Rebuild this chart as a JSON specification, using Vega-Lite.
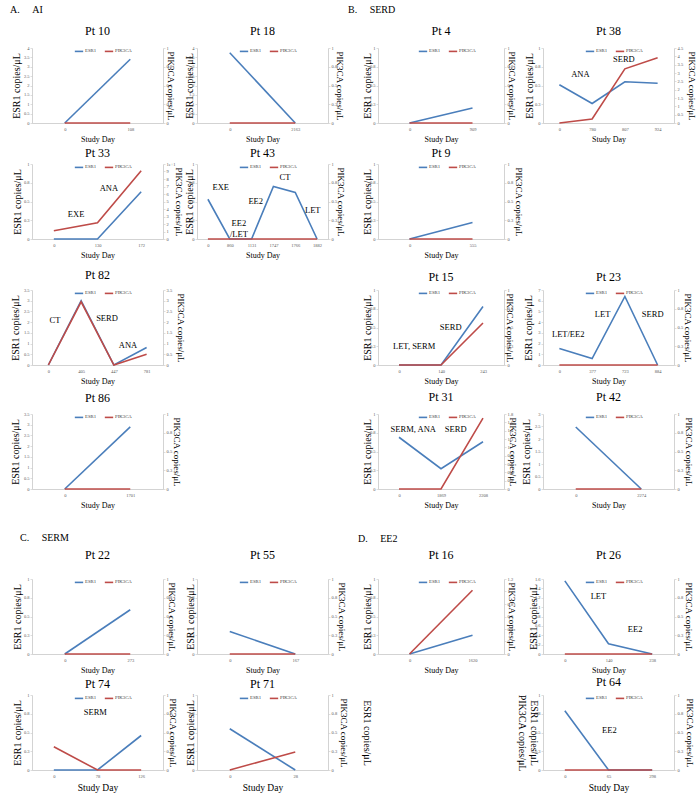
{
"$schema": "https://vega.github.io/schema/vega-lite/v6.json",
"padding": {"left": 10, "top": 5, "right": 5, "bottom": 5},
"background": "white",
"datasets": {
"series": [
{"pt":10,"day":0,"esr1":0,"pik":0},{"pt":10,"day":108,"esr1":3.4,"pik":0},
{"pt":18,"day":0,"esr1":3.75,"pik":0},{"pt":18,"day":2163,"esr1":0,"pik":0},
{"pt":33,"day":0,"esr1":0,"pik":1.1},{"pt":33,"day":130,"esr1":0,"pik":2.15},{"pt":33,"day":172,"esr1":0.63,"pik":9.1},
{"pt":43,"day":0,"esr1":0.53,"pik":0},{"pt":43,"day":860,"esr1":0,"pik":0},{"pt":43,"day":1131,"esr1":0,"pik":0},{"pt":43,"day":1747,"esr1":0.7,"pik":0},{"pt":43,"day":1766,"esr1":0.62,"pik":0},{"pt":43,"day":1882,"esr1":0,"pik":0},
{"pt":82,"day":0,"esr1":0,"pik":0},{"pt":82,"day":405,"esr1":3.0,"pik":2.95},{"pt":82,"day":447,"esr1":0,"pik":0},{"pt":82,"day":781,"esr1":0.82,"pik":0.5},
{"pt":86,"day":0,"esr1":0,"pik":0},{"pt":86,"day":1701,"esr1":2.9,"pik":0},
{"pt":4,"day":0,"esr1":0,"pik":0},{"pt":4,"day":909,"esr1":0.2,"pik":0},
{"pt":38,"day":0,"esr1":0.51,"pik":0},{"pt":38,"day":780,"esr1":0.26,"pik":0.24},{"pt":38,"day":807,"esr1":0.55,"pik":3.25},{"pt":38,"day":924,"esr1":0.53,"pik":3.92},
{"pt":9,"day":0,"esr1":0,"pik":0},{"pt":9,"day":555,"esr1":0.22,"pik":0},
{"pt":15,"day":0,"esr1":0,"pik":0},{"pt":15,"day":140,"esr1":0,"pik":0},{"pt":15,"day":243,"esr1":0.78,"pik":0.56},
{"pt":23,"day":0,"esr1":1.55,"pik":0},{"pt":23,"day":377,"esr1":0.6,"pik":0},{"pt":23,"day":723,"esr1":6.4,"pik":0},{"pt":23,"day":884,"esr1":0,"pik":0},
{"pt":31,"day":0,"esr1":0.69,"pik":0},{"pt":31,"day":1869,"esr1":0.27,"pik":0},{"pt":31,"day":2208,"esr1":0.63,"pik":1.7},
{"pt":42,"day":0,"esr1":2.48,"pik":0},{"pt":42,"day":2274,"esr1":0,"pik":0},
{"pt":22,"day":0,"esr1":0,"pik":0},{"pt":22,"day":273,"esr1":0.59,"pik":0},
{"pt":55,"day":0,"esr1":0.3,"pik":0},{"pt":55,"day":167,"esr1":0,"pik":0},
{"pt":74,"day":0,"esr1":0,"pik":0.31},{"pt":74,"day":78,"esr1":0,"pik":0},{"pt":74,"day":126,"esr1":0.46,"pik":0},
{"pt":71,"day":0,"esr1":0.55,"pik":0},{"pt":71,"day":28,"esr1":0,"pik":0.24},
{"pt":16,"day":0,"esr1":0,"pik":0},{"pt":16,"day":1620,"esr1":0.25,"pik":1.02},
{"pt":26,"day":0,"esr1":1.56,"pik":0},{"pt":26,"day":140,"esr1":0.22,"pik":0},{"pt":26,"day":238,"esr1":0,"pik":0},
{"pt":64,"day":0,"esr1":0.79,"pik":0},{"pt":64,"day":65,"esr1":0,"pik":0},{"pt":64,"day":298,"esr1":0,"pik":0}
],
"notes": [
{"pt":33,"idx":0.51,"val":0.33,"label":"EXE"},{"pt":33,"idx":1.26,"val":0.68,"label":"ANA"},
{"pt":43,"idx":0.59,"val":0.69,"label":"EXE"},{"pt":43,"idx":1.42,"val":0.21,"label":"EE2\n/LET"},{"pt":43,"idx":2.19,"val":0.51,"label":"EE2"},{"pt":43,"idx":3.53,"val":0.83,"label":"CT"},{"pt":43,"idx":4.8,"val":0.39,"label":"LET"},
{"pt":82,"idx":0.2,"val":2.12,"label":"CT"},{"pt":82,"idx":1.79,"val":2.21,"label":"SERD"},{"pt":82,"idx":2.43,"val":0.92,"label":"ANA"},
{"pt":38,"idx":0.64,"val":0.65,"label":"ANA"},{"pt":38,"idx":1.97,"val":0.85,"label":"SERD"},
{"pt":15,"idx":0.36,"val":0.25,"label":"LET, SERM"},{"pt":15,"idx":1.23,"val":0.51,"label":"SERD"},
{"pt":23,"idx":0.27,"val":2.86,"label":"LET/EE2"},{"pt":23,"idx":1.32,"val":4.8,"label":"LET"},{"pt":23,"idx":2.85,"val":4.8,"label":"SERD"},
{"pt":31,"idx":0.34,"val":0.8,"label":"SERM, ANA"},{"pt":31,"idx":1.35,"val":0.8,"label":"SERD"},
{"pt":74,"idx":0.95,"val":0.77,"label":"SERM"},
{"pt":26,"idx":0.77,"val":1.23,"label":"LET"},{"pt":26,"idx":1.61,"val":0.53,"label":"EE2"},
{"pt":64,"idx":1.02,"val":0.53,"label":"EE2"}
],
"blank": []
},
"config": {
"font": "Liberation Serif",
"view": {"stroke": null},
"axis": {"grid": false, "labelFont": "Liberation Serif", "labelFontSize": 4.5, "labelColor": "#595959", "domainColor": "#C8C8C8", "domainWidth": 0.8, "tickColor": "#C8C8C8", "tickSize": 2, "tickWidth": 0.6, "labelPadding": 1, "titleFont": "Liberation Serif", "titleFontWeight": "normal", "titleColor": "#000000", "titleFontSize": 10},
"axisX": {"labelAngle": 0, "titleFontSize": 8, "titlePadding": 5, "ticks": false, "labelPadding": 3},
"axisLeft": {"titlePadding": 3},
"axisRight": {"titleFontSize": 9, "titlePadding": 2},
"title": {"font": "Liberation Serif", "fontSize": 12, "fontWeight": "normal", "offset": 7, "color": "#000000"},
"legend": {"labelFontSize": 4.8, "labelFont": "Liberation Serif", "labelColor": "#404040", "symbolType": "stroke", "symbolSize": 70, "symbolStrokeWidth": 1.5, "labelOffset": 1, "columnPadding": 4, "padding": 0},
"line": {"strokeWidth": 1.6},
"text": {"font": "Liberation Serif", "fontSize": 8.5, "color": "#000000"}
},
"columns": 4,
"bounds": "flush",
"spacing": {"row": 41, "column": 34},
"resolve": {"scale": {"color": "independent"}, "legend": {"color": "independent"}},
"concat": [
{"width": 131, "height": 1, "data": {"name": "blank"}, "mark": {"type": "point", "opacity": 0},
 "title": {"text": "A.\u00a0\u00a0\u00a0\u00a0\u00a0AI", "orient": "bottom", "anchor": "start", "frame": "group", "fontSize": 10, "offset": -2, "dx": -22}},
{"width": 147, "height": 1, "data": {"name": "blank"}, "mark": {"type": "point", "opacity": 0}},
{"width": 131, "height": 1, "data": {"name": "blank"}, "mark": {"type": "point", "opacity": 0},
 "title": {"text": "B.\u00a0\u00a0\u00a0\u00a0\u00a0SERD", "orient": "bottom", "anchor": "start", "frame": "group", "fontSize": 10, "offset": -2, "dx": -30}},
{"width": 131, "height": 1, "data": {"name": "blank"}, "mark": {"type": "point", "opacity": 0}},

{"title": {"text": "Pt 10", "offset": 7}, "width": 131, "height": 75,
 "layer": [
  {"data": {"name": "series"}, "transform": [{"filter": "datum.pt == 10"}], "mark": "line",
   "encoding": {"x": {"field": "day", "type": "ordinal", "axis": {"title": "Study Day"}},
    "y": {"field": "esr1", "type": "quantitative", "scale": {"domain": [0, 4]}, "axis": {"title": "ESR1 copies/μL", "titlePadding": 2, "values": [0,0.5,1,1.5,2,2.5,3,3.5,4], "format": "~g"}},
    "color": {"datum": "ESR1", "scale": {"domain": ["ESR1", "PIK3CA"], "range": ["#4A7EBB", "#BE4B48"]}, "legend": {"orient": "none", "legendX": 42, "legendY": -2, "direction": "horizontal", "title": null}}}},
  {"data": {"name": "series"}, "transform": [{"filter": "datum.pt == 10"}], "mark": "line",
   "encoding": {"x": {"field": "day", "type": "ordinal", "axis": null},
    "y": {"field": "pik", "type": "quantitative", "scale": {"domain": [0, 1]}, "axis": {"orient": "right", "title": "PIK3CA copies/μL", "titlePadding": -6, "values": [0,0.25,0.5,0.75,1], "format": "~g"}},
    "color": {"datum": "PIK3CA"}}}
 ],
 "resolve": {"scale": {"x": "independent", "y": "independent"}}},
{"title": {"text": "Pt 18", "offset": 7}, "width": 131, "height": 75,
 "layer": [
  {"data": {"name": "series"}, "transform": [{"filter": "datum.pt == 18"}], "mark": "line",
   "encoding": {"x": {"field": "day", "type": "ordinal", "axis": {"title": "Study Day"}},
    "y": {"field": "esr1", "type": "quantitative", "scale": {"domain": [0, 4]}, "axis": {"title": "ESR1 copies/μL", "titlePadding": -6, "values": [0,0.5,1,1.5,2,2.5,3,3.5,4], "format": "~g"}},
    "color": {"datum": "ESR1", "scale": {"domain": ["ESR1", "PIK3CA"], "range": ["#4A7EBB", "#BE4B48"]}, "legend": {"orient": "none", "legendX": 42, "legendY": -2, "direction": "horizontal", "title": null}}}},
  {"data": {"name": "series"}, "transform": [{"filter": "datum.pt == 18"}], "mark": "line",
   "encoding": {"x": {"field": "day", "type": "ordinal", "axis": null},
    "y": {"field": "pik", "type": "quantitative", "scale": {"domain": [0, 1]}, "axis": {"orient": "right", "title": "PIK3CA copies/μL", "titlePadding": -2, "values": [0,0.25,0.5,0.75,1], "format": "~g"}},
    "color": {"datum": "PIK3CA"}}}
 ],
 "resolve": {"scale": {"x": "independent", "y": "independent"}}},
{"title": {"text": "Pt 4", "offset": 7}, "width": 126, "height": 75,
 "layer": [
  {"data": {"name": "series"}, "transform": [{"filter": "datum.pt == 4"}], "mark": "line",
   "encoding": {"x": {"field": "day", "type": "ordinal", "axis": {"title": "Study Day"}},
    "y": {"field": "esr1", "type": "quantitative", "scale": {"domain": [0, 1]}, "axis": {"title": "ESR1 copies/μL", "titlePadding": -3, "values": [0,0.25,0.5,0.75,1], "format": "~g"}},
    "color": {"datum": "ESR1", "scale": {"domain": ["ESR1", "PIK3CA"], "range": ["#4A7EBB", "#BE4B48"]}, "legend": {"orient": "none", "legendX": 40, "legendY": -2, "direction": "horizontal", "title": null}}}},
  {"data": {"name": "series"}, "transform": [{"filter": "datum.pt == 4"}], "mark": "line",
   "encoding": {"x": {"field": "day", "type": "ordinal", "axis": null},
    "y": {"field": "pik", "type": "quantitative", "scale": {"domain": [0, 1]}, "axis": {"orient": "right", "title": "PIK3CA copies/μL", "titlePadding": -6, "values": [0,0.25,0.5,0.75,1], "format": "~g"}},
    "color": {"datum": "PIK3CA"}}}
 ],
 "resolve": {"scale": {"x": "independent", "y": "independent"}}},
{"title": {"text": "Pt 38", "offset": 7}, "width": 131, "height": 75,
 "layer": [
  {"data": {"name": "series"}, "transform": [{"filter": "datum.pt == 38"}], "mark": "line",
   "encoding": {"x": {"field": "day", "type": "ordinal", "axis": {"title": "Study Day"}},
    "y": {"field": "esr1", "type": "quantitative", "scale": {"domain": [0, 1]}, "axis": {"title": "ESR1 copies/μL", "titlePadding": 0, "values": [0,0.25,0.5,0.75,1], "format": "~g"}},
    "color": {"datum": "ESR1", "scale": {"domain": ["ESR1", "PIK3CA"], "range": ["#4A7EBB", "#BE4B48"]}, "legend": {"orient": "none", "legendX": 42, "legendY": -2, "direction": "horizontal", "title": null}}}},
  {"data": {"name": "series"}, "transform": [{"filter": "datum.pt == 38"}], "mark": "line",
   "encoding": {"x": {"field": "day", "type": "ordinal", "axis": null},
    "y": {"field": "pik", "type": "quantitative", "scale": {"domain": [0, 4.5]}, "axis": {"orient": "right", "title": "PIK3CA copies/μL", "titlePadding": 4, "values": [0,0.5,1,1.5,2,2.5,3,3.5,4,4.5], "format": "~g"}},
    "color": {"datum": "PIK3CA"}}},
  {"data": {"name": "notes"}, "transform": [{"filter": "datum.pt == 38"}], "mark": {"type": "text", "lineBreak": "\n"},
   "encoding": {"x": {"field": "idx", "type": "quantitative", "scale": {"domain": [-0.5, 3.5], "nice": false, "zero": false}, "axis": null},
    "y": {"field": "val", "type": "quantitative", "scale": {"domain": [0, 1], "nice": false, "zero": false}, "axis": null},
    "text": {"field": "label"}}}
 ],
 "resolve": {"scale": {"x": "independent", "y": "independent"}}},

{"title": {"text": "Pt 33", "offset": 1}, "width": 131, "height": 75,
 "layer": [
  {"data": {"name": "series"}, "transform": [{"filter": "datum.pt == 33"}], "mark": "line",
   "encoding": {"x": {"field": "day", "type": "ordinal", "axis": {"title": "Study Day"}},
    "y": {"field": "esr1", "type": "quantitative", "scale": {"domain": [0, 1]}, "axis": {"title": "ESR1 copies/μL", "titlePadding": 1, "values": [0,0.25,0.5,0.75,1], "format": "~g"}},
    "color": {"datum": "ESR1", "scale": {"domain": ["ESR1", "PIK3CA"], "range": ["#4A7EBB", "#BE4B48"]}, "legend": {"orient": "none", "legendX": 42, "legendY": -2, "direction": "horizontal", "title": null}}}},
  {"data": {"name": "series"}, "transform": [{"filter": "datum.pt == 33"}], "mark": "line",
   "encoding": {"x": {"field": "day", "type": "ordinal", "axis": null},
    "y": {"field": "pik", "type": "quantitative", "scale": {"domain": [0, 10]}, "axis": {"orient": "right", "title": "PIK3CA copies/μL", "titlePadding": -2, "values": [0,1,2,3,4,5,6,7,8,9,10], "format": "~g"}},
    "color": {"datum": "PIK3CA"}}},
  {"data": {"name": "notes"}, "transform": [{"filter": "datum.pt == 33"}], "mark": {"type": "text", "lineBreak": "\n"},
   "encoding": {"x": {"field": "idx", "type": "quantitative", "scale": {"domain": [-0.5, 2.5], "nice": false, "zero": false}, "axis": null},
    "y": {"field": "val", "type": "quantitative", "scale": {"domain": [0, 1], "nice": false, "zero": false}, "axis": null},
    "text": {"field": "label"}}}
 ],
 "resolve": {"scale": {"x": "independent", "y": "independent"}}},
{"title": {"text": "Pt 43", "offset": 1}, "width": 131, "height": 75,
 "layer": [
  {"data": {"name": "series"}, "transform": [{"filter": "datum.pt == 43"}], "mark": "line",
   "encoding": {"x": {"field": "day", "type": "ordinal", "axis": {"title": "Study Day"}},
    "y": {"field": "esr1", "type": "quantitative", "scale": {"domain": [0, 1]}, "axis": {"title": "ESR1 copies/μL", "titlePadding": -6, "values": [0,0.25,0.5,0.75,1], "format": "~g"}},
    "color": {"datum": "ESR1", "scale": {"domain": ["ESR1", "PIK3CA"], "range": ["#4A7EBB", "#BE4B48"]}, "legend": {"orient": "none", "legendX": 42, "legendY": -2, "direction": "horizontal", "title": null}}}},
  {"data": {"name": "series"}, "transform": [{"filter": "datum.pt == 43"}], "mark": "line",
   "encoding": {"x": {"field": "day", "type": "ordinal", "axis": null},
    "y": {"field": "pik", "type": "quantitative", "scale": {"domain": [0, 1]}, "axis": {"orient": "right", "title": "PIK3CA copies/μL", "titlePadding": -1, "values": [0,0.25,0.5,0.75,1], "format": "~g"}},
    "color": {"datum": "PIK3CA"}}},
  {"data": {"name": "notes"}, "transform": [{"filter": "datum.pt == 43"}], "mark": {"type": "text", "lineBreak": "\n"},
   "encoding": {"x": {"field": "idx", "type": "quantitative", "scale": {"domain": [-0.5, 5.5], "nice": false, "zero": false}, "axis": null},
    "y": {"field": "val", "type": "quantitative", "scale": {"domain": [0, 1], "nice": false, "zero": false}, "axis": null},
    "text": {"field": "label"}}}
 ],
 "resolve": {"scale": {"x": "independent", "y": "independent"}}},
{"title": {"text": "Pt 9", "offset": 1}, "width": 126, "height": 75,
 "layer": [
  {"data": {"name": "series"}, "transform": [{"filter": "datum.pt == 9"}], "mark": "line",
   "encoding": {"x": {"field": "day", "type": "ordinal", "axis": {"title": "Study Day"}},
    "y": {"field": "esr1", "type": "quantitative", "scale": {"domain": [0, 1]}, "axis": {"title": "ESR1 copies/μL", "titlePadding": -3, "values": [0,0.25,0.5,0.75,1], "format": "~g"}},
    "color": {"datum": "ESR1", "scale": {"domain": ["ESR1", "PIK3CA"], "range": ["#4A7EBB", "#BE4B48"]}, "legend": {"orient": "none", "legendX": 40, "legendY": -2, "direction": "horizontal", "title": null}}}},
  {"data": {"name": "series"}, "transform": [{"filter": "datum.pt == 9"}], "mark": "line",
   "encoding": {"x": {"field": "day", "type": "ordinal", "axis": null},
    "y": {"field": "pik", "type": "quantitative", "scale": {"domain": [0, 1]}, "axis": {"orient": "right", "title": "PIK3CA copies/μL", "titlePadding": 1, "values": [0,0.25,0.5,0.75,1], "format": "~g"}},
    "color": {"datum": "PIK3CA"}}}
 ],
 "resolve": {"scale": {"x": "independent", "y": "independent"}}},
{"width": 131, "height": 85, "data": {"name": "blank"}, "mark": {"type": "point", "opacity": 0}},

{"title": {"text": "Pt 82", "offset": 5}, "width": 131, "height": 75,
 "layer": [
  {"data": {"name": "series"}, "transform": [{"filter": "datum.pt == 82"}], "mark": "line",
   "encoding": {"x": {"field": "day", "type": "ordinal", "axis": {"title": "Study Day"}},
    "y": {"field": "esr1", "type": "quantitative", "scale": {"domain": [0, 3.5]}, "axis": {"title": "ESR1 copies/μL", "titlePadding": 3, "values": [0,0.5,1,1.5,2,2.5,3,3.5], "format": "~g"}},
    "color": {"datum": "ESR1", "scale": {"domain": ["ESR1", "PIK3CA"], "range": ["#4A7EBB", "#BE4B48"]}, "legend": {"orient": "none", "legendX": 42, "legendY": -2, "direction": "horizontal", "title": null}}}},
  {"data": {"name": "series"}, "transform": [{"filter": "datum.pt == 82"}], "mark": "line",
   "encoding": {"x": {"field": "day", "type": "ordinal", "axis": null},
    "y": {"field": "pik", "type": "quantitative", "scale": {"domain": [0, 3.5]}, "axis": {"orient": "right", "title": "PIK3CA copies/μL", "titlePadding": 4, "values": [0,0.5,1,1.5,2,2.5,3,3.5], "format": "~g"}},
    "color": {"datum": "PIK3CA"}}},
  {"data": {"name": "notes"}, "transform": [{"filter": "datum.pt == 82"}], "mark": {"type": "text", "lineBreak": "\n"},
   "encoding": {"x": {"field": "idx", "type": "quantitative", "scale": {"domain": [-0.5, 3.5], "nice": false, "zero": false}, "axis": null},
    "y": {"field": "val", "type": "quantitative", "scale": {"domain": [0, 3.5], "nice": false, "zero": false}, "axis": null},
    "text": {"field": "label"}}}
 ],
 "resolve": {"scale": {"x": "independent", "y": "independent"}}},
{"width": 147, "height": 83, "data": {"name": "blank"}, "mark": {"type": "point", "opacity": 0}},
{"title": {"text": "Pt 15", "offset": 3}, "width": 126, "height": 75,
 "layer": [
  {"data": {"name": "series"}, "transform": [{"filter": "datum.pt == 15"}], "mark": "line",
   "encoding": {"x": {"field": "day", "type": "ordinal", "axis": {"title": "Study Day"}},
    "y": {"field": "esr1", "type": "quantitative", "scale": {"domain": [0, 1]}, "axis": {"title": "ESR1 copies/μL", "titlePadding": -3, "values": [0,0.25,0.5,0.75,1], "format": "~g"}},
    "color": {"datum": "ESR1", "scale": {"domain": ["ESR1", "PIK3CA"], "range": ["#4A7EBB", "#BE4B48"]}, "legend": {"orient": "none", "legendX": 40, "legendY": -2, "direction": "horizontal", "title": null}}}},
  {"data": {"name": "series"}, "transform": [{"filter": "datum.pt == 15"}], "mark": "line",
   "encoding": {"x": {"field": "day", "type": "ordinal", "axis": null},
    "y": {"field": "pik", "type": "quantitative", "scale": {"domain": [0, 1]}, "axis": {"orient": "right", "title": "PIK3CA copies/μL", "titlePadding": -8, "values": [0,0.25,0.5,0.75,1], "format": "~g"}},
    "color": {"datum": "PIK3CA"}}},
  {"data": {"name": "notes"}, "transform": [{"filter": "datum.pt == 15"}], "mark": {"type": "text", "lineBreak": "\n"},
   "encoding": {"x": {"field": "idx", "type": "quantitative", "scale": {"domain": [-0.5, 2.5], "nice": false, "zero": false}, "axis": null},
    "y": {"field": "val", "type": "quantitative", "scale": {"domain": [0, 1], "nice": false, "zero": false}, "axis": null},
    "text": {"field": "label"}}}
 ],
 "resolve": {"scale": {"x": "independent", "y": "independent"}}},
{"title": {"text": "Pt 23", "offset": 3}, "width": 131, "height": 75,
 "layer": [
  {"data": {"name": "series"}, "transform": [{"filter": "datum.pt == 23"}], "mark": "line",
   "encoding": {"x": {"field": "day", "type": "ordinal", "axis": {"title": "Study Day"}},
    "y": {"field": "esr1", "type": "quantitative", "scale": {"domain": [0, 7]}, "axis": {"title": "ESR1 copies/μL", "titlePadding": 4, "values": [0,1,2,3,4,5,6,7], "format": "~g"}},
    "color": {"datum": "ESR1", "scale": {"domain": ["ESR1", "PIK3CA"], "range": ["#4A7EBB", "#BE4B48"]}, "legend": {"orient": "none", "legendX": 42, "legendY": -2, "direction": "horizontal", "title": null}}}},
  {"data": {"name": "series"}, "transform": [{"filter": "datum.pt == 23"}], "mark": "line",
   "encoding": {"x": {"field": "day", "type": "ordinal", "axis": null},
    "y": {"field": "pik", "type": "quantitative", "scale": {"domain": [0, 1]}, "axis": {"orient": "right", "title": "PIK3CA copies/μL", "titlePadding": 0, "values": [0,0.25,0.5,0.75,1], "format": "~g"}},
    "color": {"datum": "PIK3CA"}}},
  {"data": {"name": "notes"}, "transform": [{"filter": "datum.pt == 23"}], "mark": {"type": "text", "lineBreak": "\n"},
   "encoding": {"x": {"field": "idx", "type": "quantitative", "scale": {"domain": [-0.5, 3.5], "nice": false, "zero": false}, "axis": null},
    "y": {"field": "val", "type": "quantitative", "scale": {"domain": [0, 7], "nice": false, "zero": false}, "axis": null},
    "text": {"field": "label"}}}
 ],
 "resolve": {"scale": {"x": "independent", "y": "independent"}}},

{"title": {"text": "Pt 86", "offset": 6}, "width": 131, "height": 75,
 "layer": [
  {"data": {"name": "series"}, "transform": [{"filter": "datum.pt == 86"}], "mark": "line",
   "encoding": {"x": {"field": "day", "type": "ordinal", "axis": {"title": "Study Day"}},
    "y": {"field": "esr1", "type": "quantitative", "scale": {"domain": [0, 3.5]}, "axis": {"title": "ESR1 copies/μL", "titlePadding": 3, "values": [0,0.5,1,1.5,2,2.5,3,3.5], "format": "~g"}},
    "color": {"datum": "ESR1", "scale": {"domain": ["ESR1", "PIK3CA"], "range": ["#4A7EBB", "#BE4B48"]}, "legend": {"orient": "none", "legendX": 42, "legendY": -2, "direction": "horizontal", "title": null}}}},
  {"data": {"name": "series"}, "transform": [{"filter": "datum.pt == 86"}], "mark": "line",
   "encoding": {"x": {"field": "day", "type": "ordinal", "axis": null},
    "y": {"field": "pik", "type": "quantitative", "scale": {"domain": [0, 1]}, "axis": {"orient": "right", "title": "PIK3CA copies/μL", "titlePadding": 0, "values": [0,0.25,0.5,0.75,1], "format": "~g"}},
    "color": {"datum": "PIK3CA"}}}
 ],
 "resolve": {"scale": {"x": "independent", "y": "independent"}}},
{"width": 131, "height": 75, "data": {"name": "blank"}, "mark": {"type": "point", "opacity": 0}},
{"title": {"text": "Pt 31", "offset": 7}, "width": 126, "height": 75,
 "layer": [
  {"data": {"name": "series"}, "transform": [{"filter": "datum.pt == 31"}], "mark": "line",
   "encoding": {"x": {"field": "day", "type": "ordinal", "axis": {"title": "Study Day"}},
    "y": {"field": "esr1", "type": "quantitative", "scale": {"domain": [0, 1]}, "axis": {"title": "ESR1 copies/μL", "titlePadding": -3, "values": [0,0.25,0.5,0.75,1], "format": "~g"}},
    "color": {"datum": "ESR1", "scale": {"domain": ["ESR1", "PIK3CA"], "range": ["#4A7EBB", "#BE4B48"]}, "legend": {"orient": "none", "legendX": 40, "legendY": -2, "direction": "horizontal", "title": null}}}},
  {"data": {"name": "series"}, "transform": [{"filter": "datum.pt == 31"}], "mark": "line",
   "encoding": {"x": {"field": "day", "type": "ordinal", "axis": null},
    "y": {"field": "pik", "type": "quantitative", "scale": {"domain": [0, 1.8]}, "axis": {"orient": "right", "title": "PIK3CA copies/μL", "titlePadding": -5, "values": [0,0.2,0.4,0.6,0.8,1,1.2,1.4,1.6,1.8], "format": "~g"}},
    "color": {"datum": "PIK3CA"}}},
  {"data": {"name": "notes"}, "transform": [{"filter": "datum.pt == 31"}], "mark": {"type": "text", "lineBreak": "\n"},
   "encoding": {"x": {"field": "idx", "type": "quantitative", "scale": {"domain": [-0.5, 2.5], "nice": false, "zero": false}, "axis": null},
    "y": {"field": "val", "type": "quantitative", "scale": {"domain": [0, 1], "nice": false, "zero": false}, "axis": null},
    "text": {"field": "label"}}}
 ],
 "resolve": {"scale": {"x": "independent", "y": "independent"}}},
{"title": {"text": "Pt 42", "offset": 7}, "width": 131, "height": 75,
 "layer": [
  {"data": {"name": "series"}, "transform": [{"filter": "datum.pt == 42"}], "mark": "line",
   "encoding": {"x": {"field": "day", "type": "ordinal", "axis": {"title": "Study Day"}},
    "y": {"field": "esr1", "type": "quantitative", "scale": {"domain": [0, 3]}, "axis": {"title": "ESR1 copies/μL", "titlePadding": 3, "values": [0,0.5,1,1.5,2,2.5,3], "format": "~g"}},
    "color": {"datum": "ESR1", "scale": {"domain": ["ESR1", "PIK3CA"], "range": ["#4A7EBB", "#BE4B48"]}, "legend": {"orient": "none", "legendX": 42, "legendY": -2, "direction": "horizontal", "title": null}}}},
  {"data": {"name": "series"}, "transform": [{"filter": "datum.pt == 42"}], "mark": "line",
   "encoding": {"x": {"field": "day", "type": "ordinal", "axis": null},
    "y": {"field": "pik", "type": "quantitative", "scale": {"domain": [0, 1]}, "axis": {"orient": "right", "title": "PIK3CA copies/μL", "titlePadding": 1, "values": [0,0.25,0.5,0.75,1], "format": "~g"}},
    "color": {"datum": "PIK3CA"}}}
 ],
 "resolve": {"scale": {"x": "independent", "y": "independent"}}},

{"width": 131, "height": 8, "data": {"name": "blank"}, "mark": {"type": "point", "opacity": 0},
 "title": {"text": "C.\u00a0\u00a0\u00a0\u00a0\u00a0SERM", "orient": "bottom", "anchor": "start", "frame": "group", "fontSize": 10, "offset": -5, "dx": -12}},
{"width": 131, "height": 8, "data": {"name": "blank"}, "mark": {"type": "point", "opacity": 0}},
{"width": 126, "height": 8, "data": {"name": "blank"}, "mark": {"type": "point", "opacity": 0},
 "title": {"text": "D.\u00a0\u00a0\u00a0\u00a0\u00a0EE2", "orient": "bottom", "anchor": "start", "frame": "group", "fontSize": 10, "offset": -4, "dx": -20}},
{"width": 131, "height": 8, "data": {"name": "blank"}, "mark": {"type": "point", "opacity": 0}},

{"title": {"text": "Pt 22", "offset": 14}, "width": 131, "height": 75,
 "layer": [
  {"data": {"name": "series"}, "transform": [{"filter": "datum.pt == 22"}], "mark": "line",
   "encoding": {"x": {"field": "day", "type": "ordinal", "axis": {"title": "Study Day"}},
    "y": {"field": "esr1", "type": "quantitative", "scale": {"domain": [0, 1]}, "axis": {"title": "ESR1 copies/μL", "titlePadding": 1, "values": [0,0.25,0.5,0.75,1], "format": "~g"}},
    "color": {"datum": "ESR1", "scale": {"domain": ["ESR1", "PIK3CA"], "range": ["#4A7EBB", "#BE4B48"]}, "legend": {"orient": "none", "legendX": 42, "legendY": -2, "direction": "horizontal", "title": null}}}},
  {"data": {"name": "series"}, "transform": [{"filter": "datum.pt == 22"}], "mark": "line",
   "encoding": {"x": {"field": "day", "type": "ordinal", "axis": null},
    "y": {"field": "pik", "type": "quantitative", "scale": {"domain": [0, 1]}, "axis": {"orient": "right", "title": "PIK3CA copies/μL", "titlePadding": -5, "values": [0,0.25,0.5,0.75,1], "format": "~g"}},
    "color": {"datum": "PIK3CA"}}}
 ],
 "resolve": {"scale": {"x": "independent", "y": "independent"}}},
{"title": {"text": "Pt 55", "offset": 14}, "width": 131, "height": 75,
 "layer": [
  {"data": {"name": "series"}, "transform": [{"filter": "datum.pt == 55"}], "mark": "line",
   "encoding": {"x": {"field": "day", "type": "ordinal", "axis": {"title": "Study Day"}},
    "y": {"field": "esr1", "type": "quantitative", "scale": {"domain": [0, 1]}, "axis": {"title": "ESR1 copies/μL", "titlePadding": -7, "values": [0,0.25,0.5,0.75,1], "format": "~g"}},
    "color": {"datum": "ESR1", "scale": {"domain": ["ESR1", "PIK3CA"], "range": ["#4A7EBB", "#BE4B48"]}, "legend": {"orient": "none", "legendX": 42, "legendY": -2, "direction": "horizontal", "title": null}}}},
  {"data": {"name": "series"}, "transform": [{"filter": "datum.pt == 55"}], "mark": "line",
   "encoding": {"x": {"field": "day", "type": "ordinal", "axis": null},
    "y": {"field": "pik", "type": "quantitative", "scale": {"domain": [0, 1]}, "axis": {"orient": "right", "title": "PIK3CA copies/μL", "titlePadding": 0, "values": [0,0.25,0.5,0.75,1], "format": "~g"}},
    "color": {"datum": "PIK3CA"}}}
 ],
 "resolve": {"scale": {"x": "independent", "y": "independent"}}},
{"title": {"text": "Pt 16", "offset": 14}, "width": 126, "height": 75,
 "layer": [
  {"data": {"name": "series"}, "transform": [{"filter": "datum.pt == 16"}], "mark": "line",
   "encoding": {"x": {"field": "day", "type": "ordinal", "axis": {"title": "Study Day"}},
    "y": {"field": "esr1", "type": "quantitative", "scale": {"domain": [0, 1]}, "axis": {"title": "ESR1 copies/μL", "titlePadding": -3, "values": [0,0.25,0.5,0.75,1], "format": "~g"}},
    "color": {"datum": "ESR1", "scale": {"domain": ["ESR1", "PIK3CA"], "range": ["#4A7EBB", "#BE4B48"]}, "legend": {"orient": "none", "legendX": 40, "legendY": -2, "direction": "horizontal", "title": null}}}},
  {"data": {"name": "series"}, "transform": [{"filter": "datum.pt == 16"}], "mark": "line",
   "encoding": {"x": {"field": "day", "type": "ordinal", "axis": null},
    "y": {"field": "pik", "type": "quantitative", "scale": {"domain": [0, 1.2]}, "axis": {"orient": "right", "title": "PIK3CA copies/μL", "titlePadding": -6, "values": [0,0.2,0.4,0.6,0.8,1,1.2], "format": "~g"}},
    "color": {"datum": "PIK3CA"}}}
 ],
 "resolve": {"scale": {"x": "independent", "y": "independent"}}},
{"title": {"text": "Pt 26", "offset": 14}, "width": 131, "height": 75,
 "layer": [
  {"data": {"name": "series"}, "transform": [{"filter": "datum.pt == 26"}], "mark": "line",
   "encoding": {"x": {"field": "day", "type": "ordinal", "axis": {"title": "Study Day"}},
    "y": {"field": "esr1", "type": "quantitative", "scale": {"domain": [0, 1.6]}, "axis": {"title": "ESR1 copies/μL", "titlePadding": -4, "values": [0,0.2,0.4,0.6,0.8,1,1.2,1.4,1.6], "format": "~g"}},
    "color": {"datum": "ESR1", "scale": {"domain": ["ESR1", "PIK3CA"], "range": ["#4A7EBB", "#BE4B48"]}, "legend": {"orient": "none", "legendX": 42, "legendY": -2, "direction": "horizontal", "title": null}}}},
  {"data": {"name": "series"}, "transform": [{"filter": "datum.pt == 26"}], "mark": "line",
   "encoding": {"x": {"field": "day", "type": "ordinal", "axis": null},
    "y": {"field": "pik", "type": "quantitative", "scale": {"domain": [0, 1]}, "axis": {"orient": "right", "title": "PIK3CA copies/μL", "titlePadding": 1, "values": [0,0.25,0.5,0.75,1], "format": "~g"}},
    "color": {"datum": "PIK3CA"}}},
  {"data": {"name": "notes"}, "transform": [{"filter": "datum.pt == 26"}], "mark": {"type": "text", "lineBreak": "\n"},
   "encoding": {"x": {"field": "idx", "type": "quantitative", "scale": {"domain": [-0.5, 2.5], "nice": false, "zero": false}, "axis": null},
    "y": {"field": "val", "type": "quantitative", "scale": {"domain": [0, 1.6], "nice": false, "zero": false}, "axis": null},
    "text": {"field": "label"}}}
 ],
 "resolve": {"scale": {"x": "independent", "y": "independent"}}},

{"title": {"text": "Pt 74", "offset": 1}, "width": 131, "height": 75,
 "layer": [
  {"data": {"name": "series"}, "transform": [{"filter": "datum.pt == 74"}], "mark": "line",
   "encoding": {"x": {"field": "day", "type": "ordinal", "axis": {"title": "Study Day", "titleFontSize": 9.5}},
    "y": {"field": "esr1", "type": "quantitative", "scale": {"domain": [0, 1]}, "axis": {"title": "ESR1 copies/μL", "titlePadding": 1, "values": [0,0.25,0.5,0.75,1], "format": "~g"}},
    "color": {"datum": "ESR1", "scale": {"domain": ["ESR1", "PIK3CA"], "range": ["#4A7EBB", "#BE4B48"]}, "legend": {"orient": "none", "legendX": 42, "legendY": -2, "direction": "horizontal", "title": null}}}},
  {"data": {"name": "series"}, "transform": [{"filter": "datum.pt == 74"}], "mark": "line",
   "encoding": {"x": {"field": "day", "type": "ordinal", "axis": null},
    "y": {"field": "pik", "type": "quantitative", "scale": {"domain": [0, 1]}, "axis": {"orient": "right", "title": "PIK3CA copies/μL", "titlePadding": -4, "values": [0,0.25,0.5,0.75,1], "format": "~g"}},
    "color": {"datum": "PIK3CA"}}},
  {"data": {"name": "notes"}, "transform": [{"filter": "datum.pt == 74"}], "mark": {"type": "text", "lineBreak": "\n"},
   "encoding": {"x": {"field": "idx", "type": "quantitative", "scale": {"domain": [-0.5, 2.5], "nice": false, "zero": false}, "axis": null},
    "y": {"field": "val", "type": "quantitative", "scale": {"domain": [0, 1], "nice": false, "zero": false}, "axis": null},
    "text": {"field": "label"}}}
 ],
 "resolve": {"scale": {"x": "independent", "y": "independent"}}},
{"title": {"text": "Pt 71", "offset": 1}, "width": 131, "height": 75,
 "layer": [
  {"data": {"name": "series"}, "transform": [{"filter": "datum.pt == 71"}], "mark": "line",
   "encoding": {"x": {"field": "day", "type": "ordinal", "axis": {"title": "Study Day", "titleFontSize": 9.5}},
    "y": {"field": "esr1", "type": "quantitative", "scale": {"domain": [0, 1]}, "axis": {"title": "ESR1 copies/μL", "titlePadding": -7, "values": [0,0.25,0.5,0.75,1], "format": "~g"}},
    "color": {"datum": "ESR1", "scale": {"domain": ["ESR1", "PIK3CA"], "range": ["#4A7EBB", "#BE4B48"]}, "legend": {"orient": "none", "legendX": 42, "legendY": -2, "direction": "horizontal", "title": null}}}},
  {"data": {"name": "series"}, "transform": [{"filter": "datum.pt == 71"}], "mark": "line",
   "encoding": {"x": {"field": "day", "type": "ordinal", "axis": null},
    "y": {"field": "pik", "type": "quantitative", "scale": {"domain": [0, 1]}, "axis": {"orient": "right", "title": "PIK3CA copies/μL", "titlePadding": 2, "values": [0,0.25,0.5,0.75,1], "format": "~g"}},
    "color": {"datum": "PIK3CA"}}}
 ],
 "resolve": {"scale": {"x": "independent", "y": "independent"}}},
{"width": 126, "height": 75, "data": {"name": "blank"}, "mark": {"type": "point", "opacity": 0},
 "encoding": {"y": {"field": "v", "type": "quantitative", "axis": {"title": "ESR1 copies/μL", "titleAngle": 90, "titlePadding": 17, "labels": false, "ticks": false, "domain": false}}}},
{"title": {"text": "Pt 64", "offset": 3}, "width": 131, "height": 75,
 "layer": [
  {"data": {"name": "series"}, "transform": [{"filter": "datum.pt == 64"}], "mark": "line",
   "encoding": {"x": {"field": "day", "type": "ordinal", "axis": {"title": "Study Day", "titleFontSize": 9.5}},
    "y": {"field": "esr1", "type": "quantitative", "scale": {"domain": [0, 1]}, "axis": {"title": ["ESR1 copies/μL", "PIK3CA copies/μL"], "titleAngle": 90, "titlePadding": -6, "values": [0,0.25,0.5,0.75,1], "format": "~g"}},
    "color": {"datum": "ESR1", "scale": {"domain": ["ESR1", "PIK3CA"], "range": ["#4A7EBB", "#BE4B48"]}, "legend": {"orient": "none", "legendX": 42, "legendY": -2, "direction": "horizontal", "title": null}}}},
  {"data": {"name": "series"}, "transform": [{"filter": "datum.pt == 64"}], "mark": "line",
   "encoding": {"x": {"field": "day", "type": "ordinal", "axis": null},
    "y": {"field": "pik", "type": "quantitative", "scale": {"domain": [0, 1]}, "axis": {"orient": "right", "title": "PIK3CA copies/μL", "titlePadding": 2, "values": [0,0.25,0.5,0.75,1], "format": "~g"}},
    "color": {"datum": "PIK3CA"}}},
  {"data": {"name": "notes"}, "transform": [{"filter": "datum.pt == 64"}], "mark": {"type": "text", "lineBreak": "\n"},
   "encoding": {"x": {"field": "idx", "type": "quantitative", "scale": {"domain": [-0.5, 2.5], "nice": false, "zero": false}, "axis": null},
    "y": {"field": "val", "type": "quantitative", "scale": {"domain": [0, 1], "nice": false, "zero": false}, "axis": null},
    "text": {"field": "label"}}}
 ],
 "resolve": {"scale": {"x": "independent", "y": "independent"}}}
]
}
